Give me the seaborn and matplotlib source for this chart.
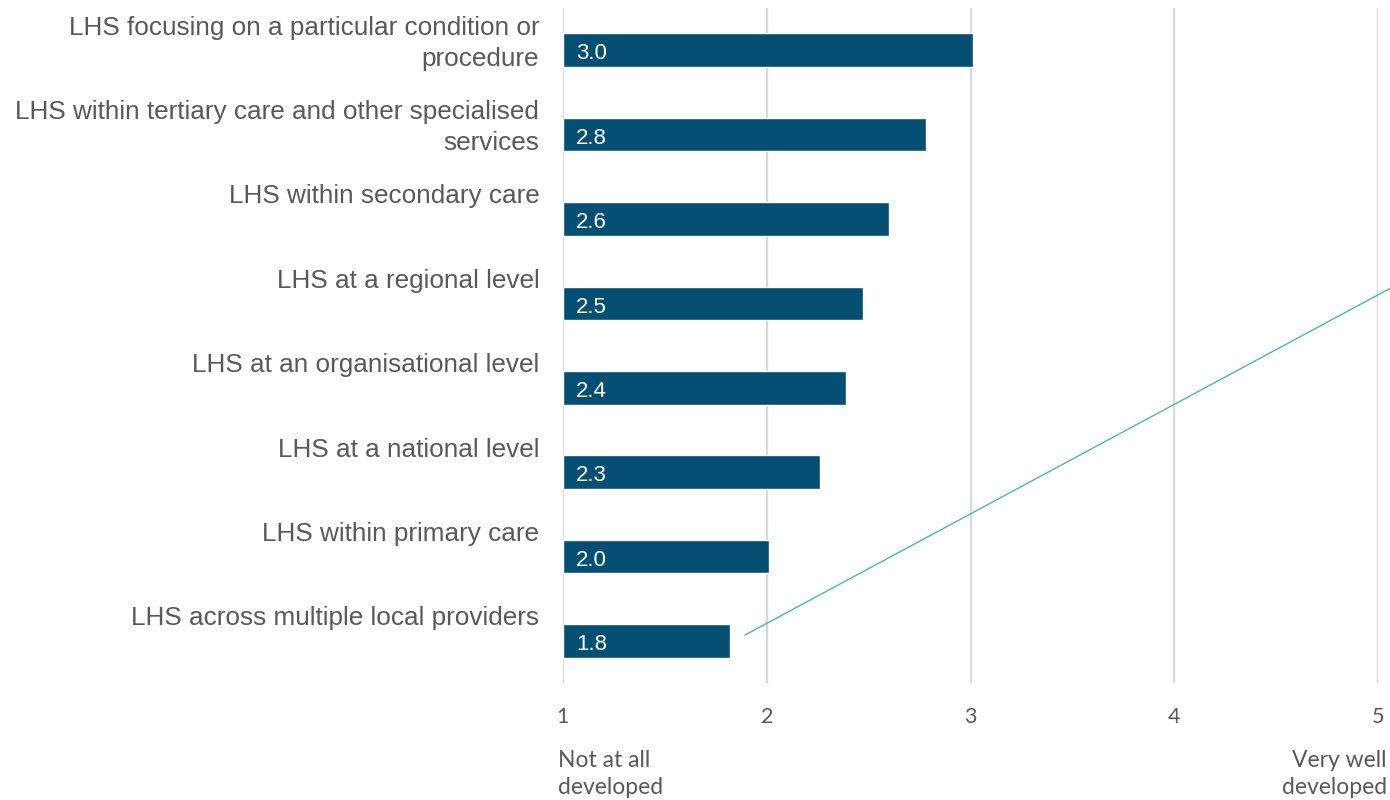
import matplotlib
matplotlib.use("Agg")
import matplotlib.pyplot as plt
import seaborn as sns
import pandas as pd

categories = [
    "LHS focusing on a particular condition or\nprocedure",
    "LHS within tertiary care and other specialised\nservices",
    "LHS within secondary care",
    "LHS at a regional level",
    "LHS at an organisational level",
    "LHS at a national level",
    "LHS within primary care",
    "LHS across multiple local providers",
]
scores = [3.01, 2.78, 2.60, 2.47, 2.39, 2.26, 2.01, 1.82]
value_labels = ["3.0", "2.8", "2.6", "2.5", "2.4", "2.3", "2.0", "1.8"]
x_ticks = [1, 2, 3, 4, 5]
low_label = "Not at all\ndeveloped"
high_label = "Very well\ndeveloped"

BAR = "#034F74"
GREY = "#595959"
GRID = "#D9D9D9"
TEAL = "#4DB6AC"

sns.set_style("white")
plt.rcParams["font.family"] = ["Liberation Sans", "DejaVu Sans"]

df = pd.DataFrame({"category": categories, "score": scores})

fig = plt.figure(figsize=(13.9, 8.0), dpi=100)
ax = fig.add_axes([0.405, 0.146, 0.5865, 0.844])

sns.barplot(data=df, x="score", y="category", color=BAR, width=0.4,
            saturation=1, ax=ax, orient="h")
for p in ax.patches:
    w = p.get_width()
    p.set_x(1)
    p.set_width(w - 1)

ax.set_xlim(1, 5)
ax.set_ylim(len(categories) - 0.5, -0.5)
ax.set_xticks(x_ticks)
ax.set_xticklabels([str(t) for t in x_ticks], family=["Lato", "DejaVu Sans"],
                   fontsize=15.5, color=GREY)
ax.tick_params(axis="x", length=0, pad=17)
ax.set_yticks([])
ax.set_xlabel("")
ax.set_ylabel("")
for s in ax.spines.values():
    s.set_visible(False)
ax.grid(axis="x", color=GRID, linewidth=1.6)
ax.set_axisbelow(True)

# category labels above bars, right aligned
for i, cat in enumerate(categories):
    ax.text(-0.029, i - 0.5 + 0.09, cat, transform=ax.get_yaxis_transform(),
            ha="right", va="top", fontsize=18.8, color=GREY, linespacing=1.38)

# value labels inside base of bars
for i, lab in enumerate(value_labels):
    ax.text(1.063, i + 0.045, lab, ha="left", va="center", fontsize=16,
            color="white")

# stray teal connector line
ax.plot([1.893, 5.06], [6.93, 2.82], color=TEAL, linewidth=1.0, clip_on=False)

fig.text(558 / 1390, 1 - 774 / 800, low_label, ha="left", va="center",
         fontsize=16.5, color=GREY, family=["Lato", "DejaVu Sans"], linespacing=1.4)
fig.text(1387 / 1390, 1 - 774 / 800, high_label, ha="right", va="center",
         fontsize=16.5, color=GREY, family=["Lato", "DejaVu Sans"], linespacing=1.4)

fig.savefig("out.png", dpi=100)
